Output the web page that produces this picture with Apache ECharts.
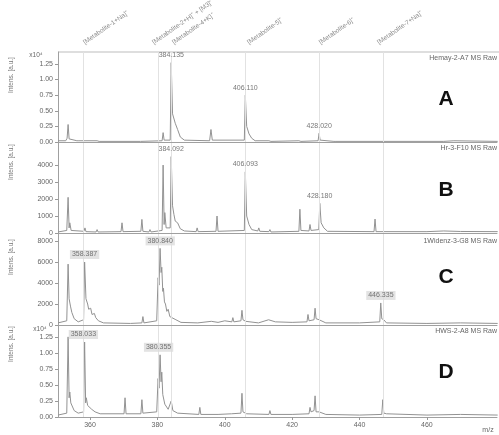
<!DOCTYPE html>
<html><head><meta charset="utf-8">
<script src="https://cdn.jsdelivr.net/npm/echarts@6/dist/echarts.min.js"></script>
<style>html,body{margin:0;padding:0;background:#fff}#c{width:499px;height:435px}</style>
</head><body><div id="c"></div>
<script>
// ---- data ----
const xTicks = [360, 380, 400, 420, 440, 460];
const yTicksA = [0, 0.25, 0.5, 0.75, 1.0, 1.25];
const yTicksB = [0, 1000, 2000, 3000, 4000];
const yTicksC = [0, 2000, 4000, 6000, 8000];
const yTicksD = [0, 0.25, 0.5, 0.75, 1.0, 1.25];

const specA = [[350.5,0.02],[352.8,0.02],[353.2,0.06],[353.5,0.28],[353.8,0.05],[354.0,0.08],[354.3,0.03],[356.1,0.02],[356.4,0.04],[356.7,0.02],[358.2,0.02],[358.5,0.05],[358.8,0.02],[362.1,0.02],[362.4,0.04],[362.7,0.01],[375,0.01],[381.4,0.02],[381.7,0.15],[382.0,0.03],[383.8,0.03],[384.1,1.27],[384.5,0.45],[384.9,0.42],[385.3,0.30],[386.0,0.2],[386.8,0.08],[388,0.03],[395.5,0.02],[395.9,0.2],[396.3,0.03],[405.8,0.03],[406.1,0.75],[406.5,0.25],[407.2,0.13],[408.0,0.06],[408.4,0.05],[409,0.02],[413.1,0.02],[413.4,0.03],[413.7,0.01],[422.0,0.02],[422.3,0.03],[422.6,0.01],[427.7,0.02],[428.0,0.14],[428.3,0.03],[432.4,0.01],[432.7,0.02],[433,0.01],[465,0.01],[468,0.02],[481,0.01]];
const specB = [[350.5,60],[353.1,150],[353.5,2100],[353.8,300],[354.0,600],[354.4,150],[358.2,100],[358.5,300],[358.8,80],[361.8,60],[362.1,200],[362.4,60],[369.2,80],[369.5,600],[369.8,80],[375.1,100],[375.4,800],[375.7,100],[377.5,60],[377.8,200],[378.1,60],[381.4,150],[381.7,4000],[382.0,500],[382.2,1200],[382.6,300],[383.8,300],[384.1,4500],[384.5,1600],[384.9,1100],[385.3,700],[386.0,600],[386.8,250],[388,120],[391.5,80],[391.8,300],[392.1,80],[397.4,100],[397.7,1000],[398.0,100],[405.8,150],[406.1,3600],[406.5,1000],[407.2,500],[408,200],[409.8,120],[410.1,300],[410.4,100],[413.1,80],[413.4,200],[413.7,60],[422.0,100],[422.3,1400],[422.6,150],[425.0,120],[425.3,500],[425.6,150],[427.9,200],[428.2,1750],[428.6,600],[429.4,300],[430.5,100],[444.3,80],[444.6,820],[444.9,80],[460,80],[465,120],[470,90],[481,80]];
const specC = [[350.5,200],[353.1,400],[353.5,5800],[353.8,2500],[354.2,1800],[354.6,1200],[355.3,600],[356.5,300],[358.1,500],[358.4,6000],[358.8,2500],[359.3,2000],[359.6,1500],[360.2,1600],[360.6,1000],[361.3,1100],[361.7,700],[362.5,400],[364,200],[372,150],[375.4,200],[375.7,800],[376.0,200],[379.8,400],[380.2,4500],[380.5,3800],[380.8,7300],[381.1,5000],[381.3,5500],[381.6,3200],[381.8,3500],[382.1,2200],[382.4,2000],[382.8,1300],[383.2,1500],[383.7,800],[384.2,900],[385.5,500],[387,250],[392,200],[396,350],[398,250],[400,400],[402.1,300],[402.4,700],[402.7,300],[404.8,400],[405.1,1400],[405.4,500],[406.2,350],[410,200],[413,500],[415,300],[420,250],[424.4,300],[424.7,1000],[425.0,400],[426.5,500],[426.8,1600],[427.1,600],[428,500],[430,200],[440,200],[446.0,300],[446.3,2100],[446.6,600],[447.2,500],[448,200],[460,150],[470,200],[481,150]];
const specD = [[350.5,0.03],[353.1,0.06],[353.5,1.25],[353.8,0.3],[354.0,0.39],[354.3,0.22],[354.6,0.2],[355.3,0.1],[356.5,0.06],[358.1,0.08],[358.4,1.17],[358.7,0.22],[358.9,0.3],[359.3,0.18],[359.6,0.2],[360.5,0.12],[361.5,0.08],[363,0.05],[370.1,0.05],[370.4,0.3],[370.7,0.05],[375.1,0.05],[375.4,0.27],[375.7,0.06],[379.8,0.08],[380.2,0.6],[380.5,0.45],[380.8,0.97],[381.1,0.55],[381.3,0.7],[381.6,0.35],[381.9,0.35],[382.2,0.2],[382.5,0.2],[383.2,0.12],[384.1,0.25],[384.6,0.1],[386,0.06],[392.3,0.04],[392.6,0.15],[392.9,0.04],[398,0.04],[402,0.05],[404.8,0.06],[405.1,0.37],[405.4,0.08],[406.5,0.05],[413.1,0.04],[413.4,0.1],[413.7,0.04],[420,0.04],[425.0,0.05],[425.3,0.15],[425.6,0.08],[426.5,0.1],[426.8,0.33],[427.1,0.08],[428,0.08],[430,0.04],[440,0.03],[446.6,0.04],[446.9,0.27],[447.2,0.06],[448,0.05],[460,0.03],[470,0.04],[481,0.03]];

const labelsA = [[384.135, 1.27, '384.135'], [406.110, 0.75, '406.110'], [428.020, 0.14, '428.020']];
const labelsB = [[384.092, 4500, '384.092'], [406.093, 3600, '406.093'], [428.180, 1750, '428.180']];
const labelsC = [[358.387, 6000, '358.387'], [380.840, 7300, '380.840'], [446.335, 2100, '446.335']];
const labelsD = [[358.033, 1.17, '358.033'], [380.355, 0.97, '380.355']];

const refLines = [358.0, 380.2, 384.1, 406.1, 428.0, 447.0];
const annotations = [
  [358.8, '[Metabolite-1+Na]⁺'],
  [379.3, '[Metabolite-2+H]⁺ + [M3]⁺'],
  [385.2, '[Metabolite-4+K]⁺'],
  [407.5, '[Metabolite-5]⁺'],
  [428.8, '[Metabolite-6]⁺'],
  [446.1, '[Metabolite-7+Na]⁺']
];
const panelTitles = ['Hemay-2-A7 MS Raw', 'Hr-3-F10 MS Raw', '1Widenz-3-G8 MS Raw', 'HWS-2-A8 MS Raw'];
const panelLetters = ['A', 'B', 'C', 'D'];

// ---- chart ----
const FONT = 'Liberation Sans';
const X_MIN = 350.5, X_MAX = 480.8;
const grids = [
  {left: 58, right: 2, top: 52, height: 90},
  {left: 58, right: 2, top: 143, height: 90},
  {left: 58, right: 2, top: 234, height: 91},
  {left: 58, right: 2, top: 326, height: 91},
  {left: 58, right: 2, top: 0, height: 46}
];
const specs = [specA, specB, specC, specD];
const labs = [labelsA, labelsB, labelsC, labelsD];
const yTicks = [yTicksA, yTicksB, yTicksC, yTicksD];
const yMax = [1.44, 5300, 8670, 1.42];
const fmts = [v => v.toFixed(2), v => String(v), v => String(v), v => v.toFixed(2)];

const xAxis = [], yAxis = [], series = [];
for (let i = 0; i < 4; i++) {
  xAxis.push({
    type: 'value', gridIndex: i, min: X_MIN, max: X_MAX,
    axisLine: {show: true, lineStyle: {color: '#a0a0a0', width: 1}},
    axisTick: {show: i === 3, customValues: xTicks, length: 3, lineStyle: {color: '#999'}},
    axisLabel: {show: i === 3, customValues: xTicks, fontSize: 7, color: '#666', fontFamily: FONT, margin: 5},
    splitLine: {show: false}
  });
  yAxis.push({
    type: 'value', gridIndex: i, min: 0, max: yMax[i],
    axisLine: {show: true, lineStyle: {color: '#a0a0a0'}},
    axisTick: {show: true, customValues: yTicks[i], length: 3, lineStyle: {color: '#999'}},
    axisLabel: {customValues: yTicks[i], fontSize: 7, color: '#666', fontFamily: FONT, margin: 5, formatter: fmts[i]},
    splitLine: {show: false}
  });
  series.push({
    type: 'line', xAxisIndex: i, yAxisIndex: i, data: specs[i],
    showSymbol: false, symbol: 'none', animation: false,
    lineStyle: {color: '#929292', width: 1},
    markLine: {
      silent: true, symbol: ['none', 'none'], animation: false,
      label: {show: false},
      lineStyle: {color: '#e2e2e2', type: 'solid', width: 1},
      data: refLines.map(v => ({xAxis: v}))
    },
    z: 3
  });
  series.push({
    type: 'scatter', xAxisIndex: i, yAxisIndex: i, symbolSize: 0, animation: false,
    data: labs[i].map(d => ({value: [d[0], d[1]], name: d[2]})),
    label: {
      show: true, position: 'top', distance: 3, formatter: p => p.name,
      fontSize: 7, color: '#555', fontFamily: FONT,
      backgroundColor: (i >= 2) ? '#dcdcdc' : 'transparent', padding: [1, 2]
    },
    z: 5
  });
}
// header grid for rotated annotations
xAxis.push({type: 'value', gridIndex: 4, min: X_MIN, max: X_MAX, show: false});
yAxis.push({type: 'value', gridIndex: 4, min: 0, max: 1, show: false});
series.push({
  type: 'scatter', xAxisIndex: 4, yAxisIndex: 4, symbolSize: 0, animation: false,
  data: annotations.map(a => ({value: [a[0], 0], name: a[1]})),
  label: {
    show: true, position: [0, 0], align: 'left', verticalAlign: 'bottom', rotate: 35,
    formatter: p => p.name, fontSize: 6.5, color: '#6e6e6e', fontFamily: FONT
  }
});

const graphic = [];
const nameY = [75, 162, 257, 344];
const titleY = [58, 148, 241, 331];
const letterY = [99, 190, 277, 372];
for (let i = 0; i < 4; i++) {
  graphic.push({type: 'text', x: 11, y: nameY[i], rotation: Math.PI / 2,
    style: {text: 'Intens. [a.u.]', fontSize: 6.5, fill: '#777', fontFamily: FONT, textAlign: 'center', textVerticalAlign: 'middle'}});
  graphic.push({type: 'text', x: 497, y: titleY[i],
    style: {text: panelTitles[i], fontSize: 7, fill: '#666', fontFamily: FONT, textAlign: 'right', textVerticalAlign: 'middle'}});
  graphic.push({type: 'text', x: 446, y: letterY[i],
    style: {text: panelLetters[i], fontSize: 21, fontWeight: 'bold', fill: '#111', fontFamily: FONT, textAlign: 'center', textVerticalAlign: 'middle'}});
}
graphic.push({type: 'text', x: 36, y: 55, style: {text: 'x10⁴', fontSize: 6.5, fill: '#666', fontFamily: FONT, textAlign: 'center', textVerticalAlign: 'middle'}});
graphic.push({type: 'text', x: 40, y: 329, style: {text: 'x10⁴', fontSize: 6.5, fill: '#666', fontFamily: FONT, textAlign: 'center', textVerticalAlign: 'middle'}});
graphic.push({type: 'text', x: 488, y: 430, style: {text: 'm/z', fontSize: 7, fill: '#666', fontFamily: FONT, textAlign: 'center', textVerticalAlign: 'middle'}});
graphic.push({type: 'line', shape: {x1: 58, y1: 52, x2: 499, y2: 52}, style: {stroke: '#bdbdbd', lineWidth: 1}});

const chart = echarts.init(document.getElementById('c'), null, {renderer: 'canvas'});
chart.setOption({
  backgroundColor: '#fff', animation: false,
  grid: grids, xAxis, yAxis, series, graphic
});
</script></body></html>
